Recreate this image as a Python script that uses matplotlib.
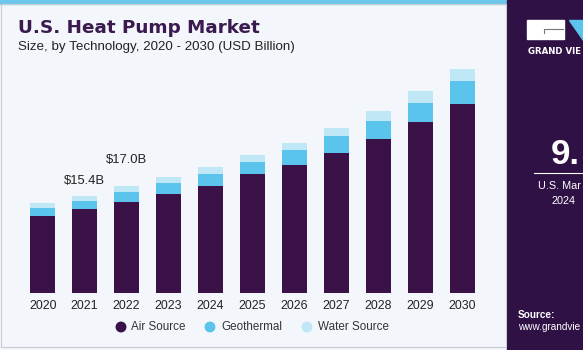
import numpy as np
import matplotlib.pyplot as plt
from matplotlib.patches import Rectangle, Polygon, Ellipse
from matplotlib.colors import LinearSegmentedColormap

# data (USD billion)
years = ['2020', '2021', '2022', '2023', '2024', '2025', '2026', '2027', '2028', '2029', '2030']
air_source = [12.2, 13.25, 14.5, 15.7, 17.0, 18.85, 20.3, 22.1, 24.4, 27.05, 29.9]
geothermal = [1.25, 1.35, 1.45, 1.75, 1.85, 1.85, 2.3, 2.75, 2.85, 3.0, 3.65]
water_source = [0.8, 0.8, 1.05, 0.9, 1.15, 1.1, 1.2, 1.2, 1.55, 1.85, 1.85]
series_names = ['Air Source', 'Geothermal', 'Water Source']
labels = {1: '$15.4B', 2: '$17.0B'}

c_air = '#3a1248'
c_geo = '#5bc4ec'
c_water = '#c0e7f6'
bg = '#f3f7fb'
purple = '#2f1146'

W, H = 583, 350
fig = plt.figure(figsize=(W / 100, H / 100), dpi=100, facecolor=bg)

def px(x, y, w, h):
    # pixel box (top-left origin) -> figure fraction
    return [x / W, 1 - (y + h) / H, w / W, h / H]

def fx(x):
    return x / W

def fy(y):
    return 1 - y / H

# top strip, border and right panel
fig.patches.append(Rectangle((0, fy(4)), fx(507), 4 / H, transform=fig.transFigure, color='#6cc7ea', zorder=0))
fig.patches.append(Rectangle((fx(507), 0), 1, 1, transform=fig.transFigure, color=purple, zorder=0))
fig.patches.append(Rectangle((fx(1), 3 / H), fx(505), 1 - 7 / H, transform=fig.transFigure,
                             fill=False, ec='#c9ccd2', lw=0.8, zorder=0))

# gradient at bottom of panel
gax = fig.add_axes(px(507, 262, 76, 88))
grad = np.linspace(0, 1, 100).reshape(-1, 1)
cmap = LinearSegmentedColormap.from_list('g', [purple, '#4a4b8e', '#4aa3d6'])
gax.imshow(grad, aspect='auto', cmap=cmap, extent=[0, 1, 0, 1], origin='upper')
gax.axis('off')

# main chart
x = np.arange(len(years))
ax = fig.add_axes(px(0, 60, 507, 233.3))
ax.set_facecolor('none')
air = np.array(air_source)
geo = np.array(geothermal)
wat = np.array(water_source)
ax.bar(x, air, width=0.6, color=c_air)
ax.bar(x, geo, width=0.6, bottom=air, color=c_geo)
ax.bar(x, wat, width=0.6, bottom=air + geo, color=c_water)
ax.set_xlim(-1.018, 11.07)
ax.set_ylim(0, 36.86)
for i, t in labels.items():
    tot = air[i] + geo[i] + wat[i]
    ax.text(x[i], tot + 1.4 + (i - 1) * 1.7, t, ha='center', va='bottom', fontsize=9.4,
            color='#222222', family='Liberation Sans')
ax.set_xticks(x)
ax.set_xticklabels(years, fontsize=8.9, color='#222222', family='Liberation Sans')
ax.tick_params(axis='x', length=0, pad=5)
ax.set_yticks([])
for s in ax.spines.values():
    s.set_visible(False)

# legend, drawn by hand
for xc, xt, c, name in zip([121, 210, 307], [131, 221, 318], [c_air, c_geo, c_water], series_names):
    fig.patches.append(Ellipse((fx(xc), fy(327)), 9.5 / W, 9.5 / H, transform=fig.transFigure, color=c, zorder=5))
    fig.text(fx(xt), fy(327), name, fontsize=8.4, color='#333333', va='center', family='Liberation Sans')

# titles
fig.text(fx(18), fy(28), 'U.S. Heat Pump Market', fontsize=13.2, fontweight='heavy',
         color='#3b1a4f', va='center', family='DejaVu Sans')
fig.text(fx(18), fy(47), 'Size, by Technology, 2020 - 2030 (USD Billion)', fontsize=9.6,
         color='#222222', va='center', family='Liberation Sans')

# right panel content (cropped in the reference)
fig.patches.append(Rectangle((fx(527), fy(39)), 37 / W, 19 / H, transform=fig.transFigure, color='white', zorder=2))
fig.lines.append(plt.Line2D([fx(544), fx(544), fx(563)], [fy(32.5), fy(29), fy(29)], transform=fig.transFigure,
                            color='#777777', lw=0.8, zorder=3))
fig.patches.append(Polygon([(fx(569), fy(20)), (fx(583), fy(20)), (fx(583), fy(40))],
                           closed=True, transform=fig.transFigure, color='#5bc4ec', zorder=2))
fig.text(fx(528), fy(51), 'GRAND VIE', fontsize=6.2, fontweight='bold', color='white',
         va='center', family='DejaVu Sans')
fig.text(fx(551), fy(155), '9.', fontsize=25, fontweight='bold', color='white',
         va='center', family='Liberation Sans')
fig.lines.append(plt.Line2D([fx(534), 1], [fy(173), fy(173)], transform=fig.transFigure,
                            color='white', lw=0.8))
fig.text(fx(538), fy(186), 'U.S. Mar', fontsize=7.8, color='white', va='center',
         family='Liberation Sans')
fig.text(fx(552), fy(201), '2024', fontsize=7.8, color='white', va='center', family='Liberation Sans')
fig.text(fx(518), fy(315), 'Source:', fontsize=7.2, fontweight='bold', color='white', va='center',
         family='Liberation Sans')
fig.text(fx(518), fy(327), 'www.grandvie', fontsize=7.2, color='white', va='center',
         family='Liberation Sans')

fig.savefig('out.png', dpi=100, facecolor=bg)
